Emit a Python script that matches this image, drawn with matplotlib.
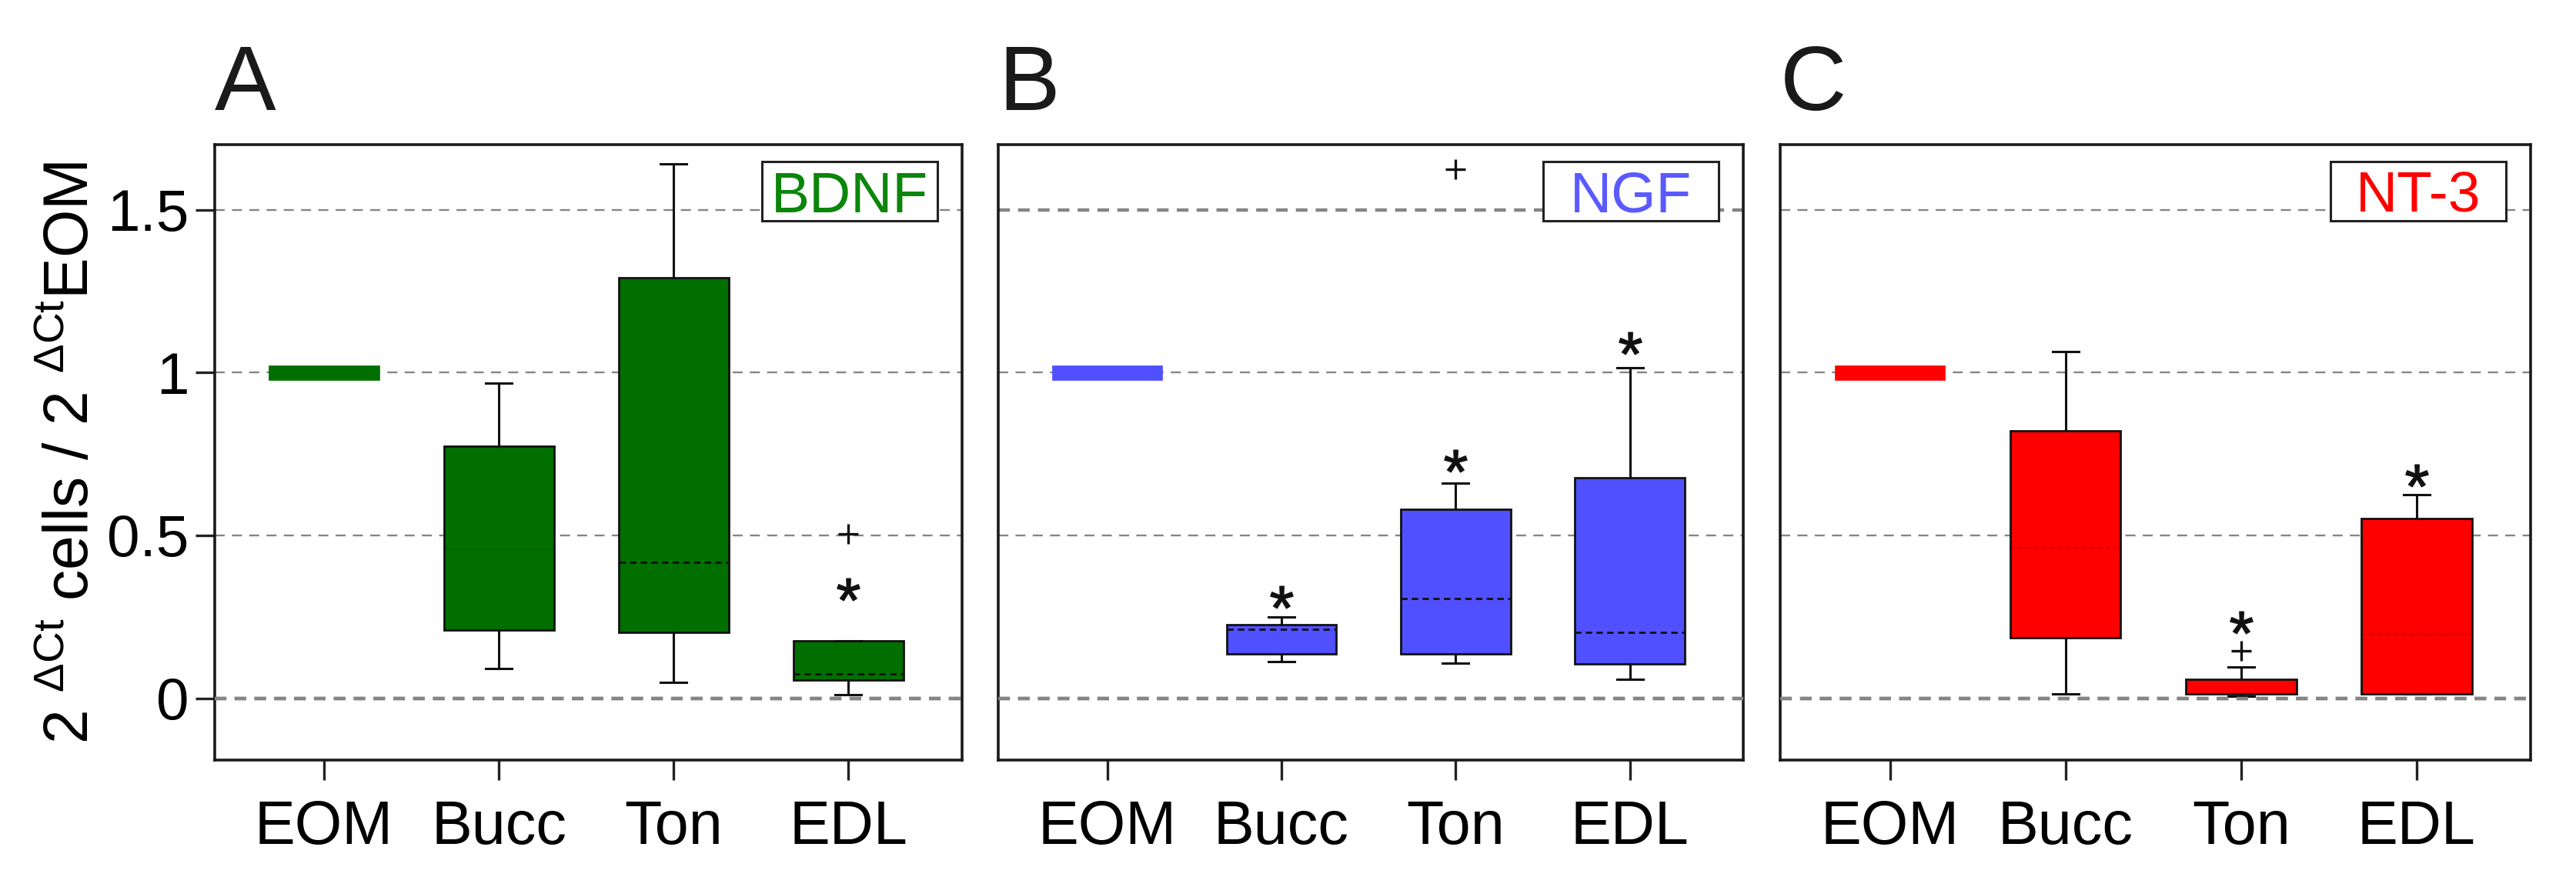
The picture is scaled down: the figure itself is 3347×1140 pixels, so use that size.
import matplotlib
matplotlib.use("Agg")
import matplotlib.pyplot as plt
from matplotlib.patches import Rectangle
import numpy as np

plt.rcParams['font.family'] = ['Liberation Sans', 'DejaVu Sans']
plt.rcParams['mathtext.fontset'] = 'custom'
plt.rcParams['mathtext.rm'] = 'Liberation Sans'
plt.rcParams['mathtext.it'] = 'Liberation Sans:italic'
plt.rcParams['mathtext.bf'] = 'Liberation Sans:bold'

# ---------------- data ----------------
categories = ['EOM', 'Bucc', 'Ton', 'EDL']
genes = ['BDNF', 'NGF', 'NT-3']
panel_letters = ['A', 'B', 'C']

# box statistics per gene: order EOM, Bucc, Ton, EDL
bdnf_whislo = [1.0, 0.090, 0.048, 0.011]
bdnf_q1     = [0.977, 0.210, 0.201, 0.056]
bdnf_med    = [1.0, 0.457, 0.416, 0.075]
bdnf_q3     = [1.023, 0.774, 1.292, 0.176]
bdnf_whishi = [1.0, 0.967, 1.642, 0.176]
bdnf_out    = [[], [], [], [0.505]]
bdnf_star   = [None, None, None, 0.335]

ngf_whislo = [1.0, 0.112, 0.107, 0.059]
ngf_q1     = [0.977, 0.137, 0.137, 0.106]
ngf_med    = [1.0, 0.211, 0.306, 0.201]
ngf_q3     = [1.023, 0.225, 0.581, 0.676]
ngf_whishi = [1.0, 0.249, 0.661, 1.014]
ngf_out    = [[], [], [1.625], []]
ngf_star   = [None, 0.31, 0.73, 1.09]

nt3_whislo = [1.0, 0.012, 0.006, 0.012]
nt3_q1     = [0.977, 0.185, 0.012, 0.012]
nt3_med    = [1.0, 0.463, 0.030, 0.194]
nt3_q3     = [1.023, 0.822, 0.057, 0.553]
nt3_whishi = [1.0, 1.064, 0.097, 0.626]
nt3_out    = [[], [], [0.146], []]
nt3_star   = [None, None, 0.232, 0.683]

y_ticks = [0, 0.5, 1, 1.5]
y_ticklabels = ['0', '0.5', '1', '1.5']

# ---------------- styles ----------------
face_colors = ['#006f00', '#5050ff', '#ff0000']
label_colors = ['#0a860a', '#5a5aff', '#ff0000']
# median style per panel/box: 'dash' = black dashed, 'faint' = subtle, None = hidden
median_styles = [
    [None, 'faint', 'dash', 'dash'],
    [None, 'dash', 'dash', 'dash'],
    [None, 'faint', None, 'faint'],
]
thick_levels = [[0], [0, 1.5], [0]]

stats_all = [
    (bdnf_whislo, bdnf_q1, bdnf_med, bdnf_q3, bdnf_whishi, bdnf_out, bdnf_star),
    (ngf_whislo, ngf_q1, ngf_med, ngf_q3, ngf_whishi, ngf_out, ngf_star),
    (nt3_whislo, nt3_q1, nt3_med, nt3_q3, nt3_whishi, nt3_out, nt3_star),
]

W, H = 3348, 1140
dpi = 100
fig = plt.figure(figsize=(W / dpi, H / dpi), dpi=dpi)

ax_lefts = [279, 1297, 2313]
ax_widths = [971, 968, 975]
ax_bottom_px = 988
ax_h_px = 800

positions = np.arange(1, len(categories) + 1)

for p in range(3):
    ax = fig.add_axes([ax_lefts[p] / W, 1 - ax_bottom_px / H, ax_widths[p] / W, ax_h_px / H])
    whislo, q1, med, q3, whishi, outs, stars = stats_all[p]
    col = face_colors[p]

    # grid lines
    for lv in y_ticks:
        if lv in thick_levels[p]:
            ax.axhline(lv, color='#858585', lw=3.2, dashes=(3.4, 2.4), zorder=0.5)
        else:
            ax.axhline(lv, color='#858585', lw=1.7, dashes=(5.5, 4), zorder=0.5)
    # the zero line is visible over boxes near zero
    ax.axhline(0, color='#858585', lw=3.2, dashes=(3.4, 2.4), zorder=4)

    bstats = []
    for i in range(len(categories)):
        bstats.append(dict(med=med[i], q1=q1[i], q3=q3[i], whislo=whislo[i],
                           whishi=whishi[i], fliers=outs[i], label=categories[i]))

    arts = ax.bxp(bstats, positions=positions, widths=0.63, capwidths=0.15,
                  patch_artist=True, showfliers=True,
                  boxprops=dict(facecolor=col, edgecolor='#111111', linewidth=2.0),
                  whiskerprops=dict(color='#111111', linewidth=2.2),
                  capprops=dict(color='#111111', linewidth=2.2),
                  medianprops=dict(color='#111111', linewidth=2.0, linestyle=(0, (3, 2))),
                  flierprops=dict(marker='+', markersize=19, markeredgewidth=2.4,
                                  markeredgecolor='#111111', linestyle='none'),
                  manage_ticks=False, zorder=2)

    # EOM reference bar: no outline, no whiskers
    arts['boxes'][0].set_edgecolor(col)
    arts['boxes'][0].set_linewidth(0.5)
    for k in (0, 1):
        arts['whiskers'][k].set_visible(False)
        arts['caps'][k].set_visible(False)

    for i, ms in enumerate(median_styles[p]):
        ln = arts['medians'][i]
        if ms is None:
            ln.set_visible(False)
        elif ms == 'faint':
            ln.set_color('#000000')
            ln.set_alpha(0.18)
            ln.set_linewidth(1.5)

    # significance asterisks
    for i, s in enumerate(stars):
        if s is not None:
            ax.plot(positions[i], s, marker='$*$', markersize=21, color='#111111',
                    linestyle='none', zorder=5)

    ax.set_xlim(0.375, 4.65)
    ax.set_ylim(-0.19, 1.70)
    ax.set_xticks(positions)
    ax.set_xticklabels(categories, fontsize=57)
    ax.tick_params(axis='x', length=19, width=2.4, pad=18, color='#222222')
    if p == 0:
        ax.set_yticks(y_ticks)
        ax.set_yticklabels(y_ticklabels, fontsize=55)
        ax.tick_params(axis='y', length=18, width=2.4, pad=6, color='#222222')
        ax.set_ylabel(r'2 $^{\Delta\mathrm{Ct}}$ cells / 2 $^{\Delta\mathrm{Ct}}$EOM', fontsize=58)
        ax.yaxis.set_label_coords(-0.152, 0.5)
    else:
        ax.set_yticks([])

    for sp in ax.spines.values():
        sp.set_linewidth(2.6)
        sp.set_color('#1a1a1a')

    # gene label box
    bw, bh = 228 / ax_widths[p], 77 / ax_h_px
    bx1 = 1 - 32 / ax_widths[p]
    by1 = 1 - 22 / ax_h_px
    ax.add_patch(Rectangle((bx1 - bw, by1 - bh), bw, bh, transform=ax.transAxes,
                           facecolor='white', edgecolor='#222222', linewidth=2.2, zorder=6))
    ax.text(bx1 - bw / 2, by1 - bh / 2, genes[p], transform=ax.transAxes,
            ha='center', va='center_baseline', fontsize=54, color=label_colors[p], zorder=7)

    # panel letter
    ax.text(0.0, 1 + 45 / ax_h_px, panel_letters[p], transform=ax.transAxes,
            ha='left', va='baseline', fontsize=86, color='#1a1a1a')

fig.savefig('out.png', dpi=dpi)
